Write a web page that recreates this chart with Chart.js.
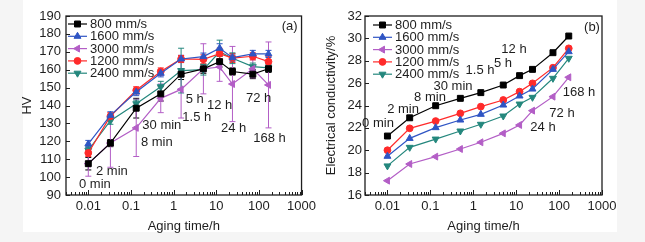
<!DOCTYPE html>
<html lang="en">
<head>
  <meta charset="UTF-8" />
  <title>Aging time - HV and electrical conductivity</title>
  <script src="https://cdn.jsdelivr.net/npm/chart.js@4.4.1/dist/chart.umd.min.js"></script>
  <style>
    html, body { margin: 0; padding: 0; background: #f5f5f5; }
    #fig { position: relative; width: 645px; height: 242px; overflow: hidden; }
    #paper { position: absolute; left: 23px; top: 0; width: 594px; height: 232px; background: #fff; }
    #hvChart { position: absolute; left: 0; top: 0; }
    #ecChart { position: absolute; left: 320px; top: 0; }
  </style>
</head>
<body>
  <div id="fig">
    <div id="paper"></div>
    <canvas id="hvChart" width="320" height="242"></canvas>
    <canvas id="ecChart" width="325" height="242"></canvas>
  </div>

  <script>
    // aging time in h (the 0 min state is plotted at 0.01 h)
    const agingTime = [0.01, 0.033, 0.133, 0.5, 1.5, 5, 12, 24, 72, 168];
    const timeTicks = [0.01, 0.1, 1, 10, 100, 1000];
    const speeds = ['800 mm/s', '1600 mm/s', '3000 mm/s', '1200 mm/s', '2400 mm/s'];
    const timeNotes = ['0 min', '2 min', '8 min', '30 min', '1.5 h', '5 h', '12 h', '24 h', '72 h', '168 h'];

    // (a) hardness HV and its error bars
    const hv800  = [107.5, 119, 138.5, 146.5, 157.5, 160.5, 164.5, 159, 157.5, 160.5];
    const hv1600 = [118.5, 134.5, 147.5, 158, 166, 167.3, 172, 166.7, 168.8, 168.8];
    const hv3000 = [107.5, 119, 127.5, 144, 149, 160.5, 161.5, 152, 160.5, 151.5];
    const hv1200 = [113.5, 134, 148.5, 159, 166, 165.8, 169, 166.5, 167.5, 164.5];
    const hv2400 = [115, 131.5, 141, 150.5, 159.5, 160, 170, 166.4, 161.7, 161];
    const err800  = [3.5, 2, 5.5, 4, 3, 2.5, 3, 2, 2.5, 2];
    const err1600 = [2, 2, 2, 2, 2, 2, 2.5, 2, 2, 2];
    const err3000 = [7, 13.5, 16, 8, 16, 14, 8, 21, 5, 24];
    const err1200 = [2, 2, 2, 2, 2, 2.5, 3, 2.5, 2, 3];
    const err2400 = [2, 2, 2, 3, 12.5, 3, 6.5, 3, 2, 2];

    // (b) electrical conductivity, %
    const ec800  = [21.27, 22.9, 23.98, 24.64, 25.15, 25.83, 26.67, 27.23, 28.72, 30.21];
    const ec1600 = [19.46, 21.06, 22.02, 22.7, 23.21, 24.04, 24.85, 25.47, 27.23, 28.81];
    const ec3000 = [17.28, 18.77, 19.43, 20.11, 20.71, 21.51, 22.26, 23.54, 24.79, 26.52];
    const ec1200 = [20.0, 21.96, 22.61, 23.3, 23.9, 24.49, 25.24, 25.98, 27.38, 29.11];
    const ec2400 = [18.6, 20.26, 21.0, 21.72, 22.32, 23.06, 24.13, 24.73, 26.43, 28.22];

    // where the time notes sit, in data units (time h, value)
    const hvNoteAt = [[0.0143, 96.1], [0.0358, 103.4], [0.404, 119.1], [0.53, 129.1], [3.49, 133.6],
                      [3.13, 143.6], [12.05, 140.3], [25.6, 127.4], [98.6, 144.2], [178, 121.8]];
    const ecNoteAt = [[0.00603, 22.44], [0.0231, 23.69], [0.0982, 24.76], [0.337, 25.74], [1.44, 27.17],
                      [4.93, 27.8], [8.9, 29.05], [42.2, 22.08], [117, 23.33], [291, 25.21]];

    const ink = '#1e1e1e';
    const font13 = { family: "'Liberation Sans', Arial, sans-serif", size: 13 };
    const fontStr = "13px 'Liberation Sans', Arial, sans-serif";

    const looks = [
      { color: '#000000', pointStyle: 'rect', rotation: 0, radius: 4.2 },
      { color: '#2f55c4', pointStyle: 'triangle', rotation: 0, radius: 4 },
      { color: '#b35ec6', pointStyle: 'triangle', rotation: 270, radius: 4 },
      { color: '#ff2a2a', pointStyle: 'circle', rotation: 0, radius: 3.4 },
      { color: '#24877d', pointStyle: 'triangle', rotation: 180, radius: 4 }
    ];

    // all tick positions on the log axis (labels only on the decades)
    const logTicks = [];
    [0.001, ...timeTicks].forEach(d => {
      for (let k = 1; k < 10; k++) {
        const v = +(d * k).toPrecision(3);
        if (v >= 0.003 && v <= 1000 && !logTicks.includes(v)) logTicks.push(v);
      }
    });

    function makeDatasets(series, errors) {
      return series.map((vals, i) => ({
        label: speeds[i],
        data: agingTime.map((t, j) => ({ x: t, y: vals[j] })),
        errors: errors ? errors[i] : null,
        borderColor: looks[i].color,
        backgroundColor: looks[i].color,
        borderWidth: 1.2,
        pointStyle: looks[i].pointStyle,
        rotation: looks[i].rotation,
        pointRadius: looks[i].radius,
        pointBorderWidth: 1,
        tension: 0
      }));
    }

    // frame and inward tick marks
    const frameTicks = {
      id: 'frameTicks',
      afterDraw(chart) {
        const { ctx, chartArea: a, scales: { x, y } } = chart;
        ctx.save();
        ctx.strokeStyle = ink;
        ctx.lineWidth = 1.3;
        ctx.strokeRect(a.left, a.top, a.right - a.left, a.bottom - a.top);
        ctx.lineWidth = 1;
        ctx.beginPath();
        x.ticks.forEach(t => {
          const px = Math.round(x.getPixelForValue(t.value)) + 0.5;
          const len = timeTicks.includes(t.value) ? 5 : 3;
          ctx.moveTo(px, a.bottom);
          ctx.lineTo(px, a.bottom - len);
        });
        y.ticks.forEach(t => {
          const py = Math.round(y.getPixelForValue(t.value)) + 0.5;
          ctx.moveTo(a.left, py);
          ctx.lineTo(a.left + 4, py);
        });
        ctx.stroke();
        ctx.restore();
      }
    };

    // vertical error bars with caps
    const errorBars = {
      id: 'errorBars',
      beforeDatasetsDraw(chart) {
        const { ctx, scales: { x, y } } = chart;
        ctx.save();
        ctx.lineWidth = 1;
        chart.data.datasets.forEach(ds => {
          if (!ds.errors) return;
          ctx.strokeStyle = ds.borderColor;
          ctx.beginPath();
          ds.data.forEach((p, j) => {
            const px = x.getPixelForValue(p.x);
            const top = y.getPixelForValue(p.y + ds.errors[j]);
            const bot = y.getPixelForValue(p.y - ds.errors[j]);
            ctx.moveTo(px, top); ctx.lineTo(px, bot);
            ctx.moveTo(px - 3, top); ctx.lineTo(px + 3, top);
            ctx.moveTo(px - 3, bot); ctx.lineTo(px + 3, bot);
          });
          ctx.stroke();
        });
        ctx.restore();
      }
    };

    // line + marker legend inside the plot
    function boxLegend(dx, dy) {
      return {
        id: 'boxLegend',
        afterDraw(chart) {
          const { ctx, chartArea: a } = chart;
          const draw = Chart.helpers && Chart.helpers.drawPoint;
          ctx.save();
          ctx.font = fontStr;
          ctx.textBaseline = 'middle';
          chart.data.datasets.forEach((ds, i) => {
            const y = a.top + dy + i * 12.3;
            const x0 = a.left + dx;
            ctx.strokeStyle = ds.borderColor;
            ctx.fillStyle = ds.borderColor;
            ctx.lineWidth = 1.2;
            ctx.beginPath();
            ctx.moveTo(x0, y); ctx.lineTo(x0 + 19, y);
            ctx.stroke();
            ctx.lineWidth = 1;
            if (draw) {
              draw(ctx, { pointStyle: ds.pointStyle, rotation: ds.rotation, radius: ds.pointRadius, borderWidth: 1 }, x0 + 9.5, y);
            } else {
              ctx.beginPath(); ctx.arc(x0 + 9.5, y, 3.5, 0, Math.PI * 2); ctx.fill();
            }
            ctx.fillStyle = ink;
            ctx.fillText(ds.label, x0 + 22, y + 0.5);
          });
          ctx.restore();
        }
      };
    }

    // aging time notes and panel letter
    function notes(at, letter, letterAt) {
      return {
        id: 'notes',
        afterDraw(chart) {
          const { ctx, scales: { x, y } } = chart;
          ctx.save();
          ctx.font = fontStr;
          ctx.fillStyle = ink;
          ctx.textAlign = 'center';
          ctx.textBaseline = 'middle';
          at.forEach((p, i) => ctx.fillText(timeNotes[i], x.getPixelForValue(p[0]), y.getPixelForValue(p[1])));
          ctx.fillText(letter, x.getPixelForValue(letterAt[0]), y.getPixelForValue(letterAt[1]));
          ctx.restore();
        }
      };
    }

    function makeOptions(yMin, yMax, yStep, yTitle, yWidth, yPad, padding) {
      return {
        responsive: false,
        animation: false,
        devicePixelRatio: 1,
        layout: { padding },
        plugins: { legend: { display: false }, tooltip: { enabled: false } },
        scales: {
          x: {
            type: 'logarithmic',
            min: 0.003,
            max: 1000,
            afterBuildTicks: s => { s.ticks = logTicks.map(v => ({ value: v })); },
            afterFit: s => { s.height = 43; },
            grid: { display: false, drawTicks: false },
            border: { display: false },
            ticks: {
              autoSkip: false, maxRotation: 0, padding: 4, color: ink, font: font13,
              callback: v => timeTicks.includes(v) ? String(v) : ''
            },
            title: { display: true, text: 'Aging time/h', color: ink, font: font13, padding: { top: 0, bottom: 4 } }
          },
          y: {
            min: yMin,
            max: yMax,
            afterFit: s => { s.width = yWidth; },
            grid: { display: false, drawTicks: false },
            border: { display: false },
            ticks: { stepSize: yStep, autoSkip: false, padding: yPad, color: ink, font: font13 },
            title: { display: true, text: yTitle, color: ink, font: font13, padding: { top: 4, bottom: 0 } }
          }
        }
      };
    }

    new Chart(document.getElementById('hvChart'), {
      type: 'line',
      data: {
        datasets: makeDatasets([hv800, hv1600, hv3000, hv1200, hv2400],
                               [err800, err1600, err3000, err1200, err2400])
      },
      options: makeOptions(90, 190, 10, 'HV', 50, 5, { left: 16, right: 18, top: 16, bottom: 4 }),
      plugins: [errorBars, frameTicks, boxLegend(2, 8), notes(hvNoteAt, '(a)', [524, 184.4])]
    });

    new Chart(document.getElementById('ecChart'), {
      type: 'line',
      data: {
        datasets: makeDatasets([ec800, ec1600, ec3000, ec1200, ec2400], null)
      },
      options: makeOptions(16, 32, 2, 'Electrical conductivity/%', 45, 3, { left: 0, right: 43, top: 16, bottom: 4 }),
      plugins: [frameTicks, boxLegend(8, 9), notes(ecNoteAt, '(b)', [585, 31.02])]
    });
  </script>
</body>
</html>
